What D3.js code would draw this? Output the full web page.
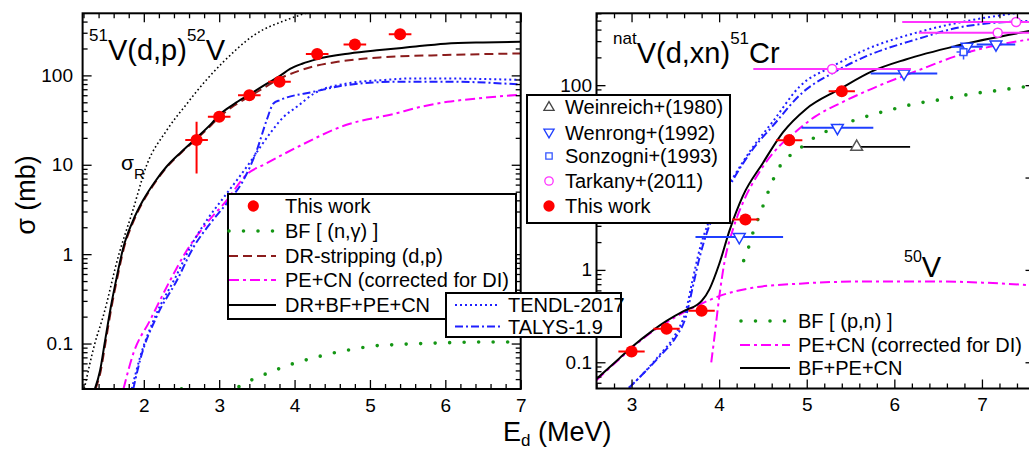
<!DOCTYPE html>
<html>
<head>
<meta charset="utf-8">
<script src="https://cdn.jsdelivr.net/npm/d3@7"></script>
<style>
  body { margin: 0; background: #fff; }
  svg { font-family: "Liberation Sans", Arial, sans-serif; }
  .frame { fill: none; stroke: #000; stroke-width: 2; }
  .tick line { stroke: #000; stroke-width: 1.3; }
  .tick text { font-size: 19px; fill: #000; }
  .sigR  { fill: none; stroke: #000; stroke-width: 1.6; stroke-dasharray: 1.6 2.6; }
  .total { fill: none; stroke: #000; stroke-width: 2; }
  .dr    { fill: none; stroke: #8b1c1c; stroke-width: 2; stroke-dasharray: 9 5; }
  .tendl { fill: none; stroke: #1f1fff; stroke-width: 2; stroke-dasharray: 2 3; }
  .talys { fill: none; stroke: #1f1fff; stroke-width: 2; stroke-dasharray: 8 3 2 3; }
  .pecn  { fill: none; stroke: #ff00ff; stroke-width: 2; stroke-dasharray: 10 4 3 4; }
  .bf    { fill: none; stroke: #149614; stroke-width: 3.6; stroke-dasharray: 0 14.5; stroke-linecap: round; }
  .legend rect { fill: #fff; stroke: #000; stroke-width: 2; }
  .legend text { font-size: 20px; fill: #000; }
</style>
</head>
<body>
<svg id="chart" width="1029" height="450"></svg>
<script>
/*
Data - left panel, 51V(d,p)52V  ([E_d MeV, sigma mb])
*/

const dpSigmaR = [[1.21,0.031],[1.35,0.1],[1.46,0.2],[1.67,1],[1.85,3],[2.04,10],[2.3,24],[2.57,48],[2.83,89],[3.05,140],[3.47,285],[3.9,420],[4.3,540]];
const dpTotal  = [[1.35,0.031],[1.42,0.05],[1.48,0.1],[1.56,0.25],[1.64,0.55],[1.73,1.2],[1.85,2.3],[1.99,4],[2.15,6.5],[2.3,9.5],[2.5,14],[2.7,20],[2.9,29],[3.0,36],[3.2,48],[3.4,61],[3.6,78],[3.8,98],[3.94,118],[4.1,135],[4.3,152],[4.73,176],[5.13,192],[5.5,206],[6.0,226],[6.5,234],[7.0,238]];
const dpStrip  = [[1.36,0.031],[1.43,0.05],[1.49,0.1],[1.57,0.25],[1.65,0.55],[1.74,1.2],[1.86,2.3],[2.0,4],[2.16,6.5],[2.31,9.5],[2.51,14],[2.7,19.5],[2.9,28],[3.0,34],[3.2,46],[3.4,58],[3.6,73],[3.8,92],[4.0,108],[4.25,126],[4.6,143],[5.13,159],[6.0,169],[7.0,176]];
const dpPeCn   = [[1.73,0.031],[1.86,0.077],[2.08,0.18],[2.35,0.51],[2.57,1.1],[2.83,2.2],[3.1,4.0],[3.36,7.7],[3.63,10.4],[4.0,15.2],[4.69,28],[5.34,37.5],[5.6,43],[6.03,50.6],[6.5,56],[7.0,61]];
const dpBf     = [[2.5,0.0312],[2.9,0.0295],[3.25,0.0327],[3.44,0.0395],[3.64,0.0465],[3.82,0.0533],[4.01,0.0607],[4.2,0.0672],[4.39,0.074],[4.58,0.0806],[4.77,0.0863],[4.96,0.0916],[5.15,0.0957],[5.34,0.097],[5.53,0.099],[5.71,0.1],[6.0,0.102],[6.5,0.104],[7.0,0.104]];
const dpTendl  = [[1.84,0.031],[1.95,0.07],[2.15,0.2],[2.42,0.55],[2.64,1.3],[2.85,2.5],[3.05,4.2],[3.25,7],[3.42,11],[3.55,16],[3.7,24],[3.85,34],[4.03,44.5],[4.25,62],[4.69,81],[5.2,89],[5.57,92.5],[6.2,92],[7.0,89]];
const dpTalys  = [[1.86,0.031],[1.95,0.065],[2.17,0.2],[2.44,0.51],[2.66,1.2],[2.88,2.2],[3.1,3.7],[3.32,6.7],[3.5,14.6],[3.63,31.6],[3.72,48.5],[3.81,53],[4.25,65.5],[4.69,77.8],[5.35,84.8],[6.02,85],[6.79,81],[7.0,79]];

const dpWorkE  = [2.7, 3.0, 3.4, 3.8, 4.3, 4.8, 5.4];
const dpWorkS  = [18.9, 34.4, 60, 84.8, 173, 222, 288];
const dpWorkLo = [8.0, 31.5, 55, 78, 160, 205, 268];
const dpWorkHi = [30.2, 37.5, 65, 92, 186, 239, 308];
const dpWorkDE = 0.15;

/*
Data - right panel, natV(d,xn)51Cr
*/

const xnTotal  = [[2.6,0.066],[2.86,0.11],[3.0,0.145],[3.24,0.22],[3.4,0.28],[3.6,0.36],[3.75,0.42],[3.8,0.46],[3.89,0.62],[4.0,1.15],[4.12,2.7],[4.27,6.3],[4.5,14.4],[4.73,31],[4.99,55],[5.37,90],[5.75,142],[6.13,190],[6.7,265],[7.6,395]];
const xnPeCn   = [[3.91,0.1],[3.95,0.2],[4.0,0.5],[4.06,1.2],[4.16,2.8],[4.27,5.3],[4.46,11.5],[4.69,22],[4.85,30],[5.1,46],[5.4,65],[5.7,88],[6.25,142],[6.82,224],[7.6,320]];
const xnPeCn50 = [[2.6,0.064],[2.86,0.108],[3.0,0.142],[3.24,0.215],[3.4,0.27],[3.6,0.35],[3.75,0.41],[4.0,0.52],[4.38,0.64],[4.92,0.71],[5.68,0.75],[6.44,0.75],[7.6,0.68]];
const xnBf     = [[4.28,1.26],[4.34,1.8],[4.39,2.6],[4.45,3.66],[4.51,5.2],[4.57,7.4],[4.64,10.6],[4.71,14],[4.8,17],[4.93,21],[5.11,28],[5.27,33],[5.43,38.5],[5.59,43],[5.75,48],[5.92,53],[6.08,58],[6.24,63],[6.41,67],[6.58,71],[6.74,76],[6.9,81],[7.07,85],[7.24,89],[7.4,94],[7.6,98]];
const xnTendl  = [[2.97,0.053],[3.1,0.07],[3.32,0.12],[3.5,0.2],[3.62,0.36],[3.7,0.8],[3.78,1.7],[3.87,3.1],[4.0,5.6],[4.16,10],[4.38,21],[4.61,40],[4.92,97],[5.3,161],[5.68,244],[6.25,370],[6.82,493],[7.6,640]];
const xnTalys  = [[2.97,0.053],[3.1,0.07],[3.32,0.116],[3.51,0.19],[3.62,0.31],[3.7,0.66],[3.78,1.4],[3.87,2.7],[4.0,4.9],[4.16,9.5],[4.38,20],[4.61,36],[4.95,83],[5.3,136],[5.68,206],[6.25,313],[6.82,436],[7.6,500]];

const xnWorkE  = [3.0, 3.4, 3.8, 4.3, 4.8, 5.4];
const xnWorkS  = [0.131, 0.231, 0.362, 3.51, 25.4, 86];
const xnWorkDE = 0.15;

const weinreichE  = [5.57];
const weinreichS  = [21.5];
const weinreichDE = [0.61];
const wenrongE    = [4.23, 5.35, 6.11, 6.83, 7.16];
const wenrongS    = [2.27, 34.5, 134, 261, 276];
const wenrongDE   = [0.5, 0.41, 0.38, 0.18, 0.22];
const sonzogniE   = [6.79];
const sonzogniS   = [228];
const sonzogniLo  = [190];
const sonzogniHi  = [254];
const sonzogniDE  = [0.08];
const tarkanyE    = [5.29, 7.18, 7.39];
const tarkanyS    = [150, 370, 482];
const tarkanyDE   = [0.9, 0.9, 1.3];

/*
Prototype
*/

var Panel = function (config) {
  return this.__init__(config);
};

Panel.prototype = {

  __init__ : function (config) {
    let self = this;

    self.svg    = config.svg;
    self.left   = config.left;
    self.right  = config.right;
    self.top    = config.top;
    self.bottom = config.bottom;

    self.x = d3.scaleLinear().domain(config.eDomain).range([self.left, self.right]);
    self.y = d3.scaleLog().domain(config.sDomain).range([self.bottom, self.top]);

    self.line = d3.line()
      .x(d => self.x(d[0]))
      .y(d => self.y(d[1]))
      .curve(d3.curveMonotoneX);

    self.svg.append("clipPath").attr("id", config.id)
      .append("rect")
      .attr("x", self.left).attr("y", self.top)
      .attr("width", self.right - self.left).attr("height", self.bottom - self.top);

    self.plot = self.svg.append("g").attr("clip-path", "url(#" + config.id + ")");

    return self;
  },

  curve : function (data, cls) {
    let self = this;
    self.plot.append("path").datum(data).attr("class", cls).attr("d", self.line);
    return self;
  },

  points : function (e, s, dE, opt) {
    let self = this;
    let g = self.plot.append("g");
    e.forEach(function (ei, i) {
      let de = Array.isArray(dE) ? dE[i] : dE;
      g.append("line")
        .attr("x1", self.x(ei - de)).attr("x2", self.x(ei + de))
        .attr("y1", self.y(s[i])).attr("y2", self.y(s[i]))
        .attr("stroke", opt.bar).attr("stroke-width", opt.barWidth || 2);
      if (opt.lo) {
        g.append("line")
          .attr("x1", self.x(ei)).attr("x2", self.x(ei))
          .attr("y1", self.y(opt.lo[i])).attr("y2", self.y(opt.hi[i]))
          .attr("stroke", opt.bar).attr("stroke-width", opt.barWidth || 2);
      }
    });
    e.forEach(function (ei, i) {
      g.append("path")
        .attr("d", d3.symbol().type(opt.type).size(opt.size)())
        .attr("transform", "translate(" + self.x(ei) + "," + self.y(s[i]) + ")" + (opt.flip ? " rotate(180)" : ""))
        .attr("fill", opt.fill).attr("stroke", opt.stroke).attr("stroke-width", 1.5);
    });
    return self;
  },

  axes : function (majorE, majorS, labelS, labelPad) {
    let self = this;
    let e0 = self.x.domain()[0], e1 = self.x.domain()[1];
    let minorE = d3.range(Math.ceil(e0 * 5 - 1e-6), Math.floor(e1 * 5 + 1e-6) + 1)
      .map(k => k / 5).filter(v => Math.abs(v - Math.round(v)) > 1e-6);
    let s0 = self.y.domain()[0], s1 = self.y.domain()[1];
    let minorS = [];
    [0.01, 0.1, 1, 10, 100].forEach(function (dec) {
      for (let m = 2; m <= 9; m++) {
        let v = dec * m;
        if (v >= s0 && v <= s1) minorS.push(v);
      }
    });
    let fmt = d3.format("~g");
    let noDomain = g => g.select(".domain").remove();

    let add = function (axis, tx, ty) {
      self.svg.append("g")
        .attr("transform", "translate(" + tx + "," + ty + ")")
        .call(axis)
        .call(noDomain);
    };

    add(d3.axisBottom(self.x).tickValues(minorE).tickSize(-5).tickFormat(""), 0, self.bottom);
    add(d3.axisBottom(self.x).tickValues(majorE).tickSize(-9).tickPadding(9.5).tickFormat(fmt), 0, self.bottom);
    add(d3.axisTop(self.x).tickValues(minorE).tickSize(-5).tickFormat(""), 0, self.top);
    add(d3.axisTop(self.x).tickValues(majorE).tickSize(-9).tickFormat(""), 0, self.top);
    add(d3.axisLeft(self.y).tickValues(minorS).tickSize(-5).tickFormat(""), self.left, 0);
    add(d3.axisLeft(self.y).tickValues(majorS).tickSize(-9).tickFormat(""), self.left, 0);
    // labelled decades (the one under a legend box is left out)
    add(d3.axisLeft(self.y).tickValues(labelS).tickSize(0).tickPadding(labelPad).tickFormat(fmt), self.left, 0);
    add(d3.axisRight(self.y).tickValues(minorS).tickSize(-5).tickFormat(""), self.right, 0);
    add(d3.axisRight(self.y).tickValues(majorS).tickSize(-9).tickFormat(""), self.right, 0);

    self.svg.append("rect").attr("class", "frame")
      .attr("x", self.left).attr("y", self.top)
      .attr("width", self.right - self.left).attr("height", self.bottom - self.top);
    return self;
  }

};

/*
Chart
*/

const svg = d3.select("#chart");

// 51V(d,p)52V
let dp = new Panel({ svg: svg, id: "clipL", left: 82.6, right: 520.7, top: 13.3, bottom: 389,
                     eDomain: [1.188, 7], sDomain: [0.031, 495] });

dp.curve(dpSigmaR, "sigR")
  .curve(dpBf, "bf")
  .curve(dpPeCn, "pecn")
  .curve(dpTendl, "tendl")
  .curve(dpTalys, "talys")
  .curve(dpStrip, "dr")
  .curve(dpTotal, "total")
  .points(dpWorkE, dpWorkS, dpWorkDE, { type: d3.symbolCircle, size: 115, fill: "#ff0000", stroke: "none",
                                         bar: "#ff0000", lo: dpWorkLo, hi: dpWorkHi })
  .axes([2, 3, 4, 5, 6, 7], [0.1, 1, 10, 100], [0.1, 1, 10, 100], 9.6);

// natV(d,xn)51Cr
let xn = new Panel({ svg: svg, id: "clipR", left: 596.5, right: 1034.5, top: 13.3, bottom: 388.5,
                     eDomain: [2.6, 7.6], sDomain: [0.052, 600] });

xn.curve(xnBf, "bf")
  .curve(xnPeCn50, "pecn")
  .curve(xnPeCn, "pecn")
  .curve(xnTendl, "tendl")
  .curve(xnTalys, "talys")
  .curve(xnTotal, "total")
  .points(weinreichE, weinreichS, weinreichDE, { type: d3.symbolTriangle, size: 60, fill: "#fff", stroke: "#555", bar: "#000", barWidth: 1.8 })
  .points(wenrongE, wenrongS, wenrongDE, { type: d3.symbolTriangle, size: 60, fill: "#fff", stroke: "#1f3fff", bar: "#1f3fff", flip: true })
  .points(sonzogniE, sonzogniS, sonzogniDE, { type: d3.symbolSquare, size: 45, fill: "#fff", stroke: "#3355ff", bar: "#3355ff",
                                               barWidth: 1.5, lo: sonzogniLo, hi: sonzogniHi })
  .points(tarkanyE, tarkanyS, tarkanyDE, { type: d3.symbolCircle, size: 64, fill: "#fff", stroke: "#ff33ff", bar: "#ff33ff" })
  .points(xnWorkE, xnWorkS, xnWorkDE, { type: d3.symbolCircle, size: 115, fill: "#ff0000", stroke: "none", bar: "#ff0000" })
  .axes([3, 4, 5, 6, 7], [0.1, 1, 10, 100], [0.1, 1, 100], 4.5);

/*
Labels
*/

let title = function (x, y, pre, main, sup, tail) {
  let t = svg.append("text").attr("x", x).attr("y", y).attr("font-size", 29);
  t.append("tspan").attr("font-size", 17).attr("dy", -19).text(pre);
  t.append("tspan").attr("dy", 19).text(main);
  t.append("tspan").attr("font-size", 17).attr("dy", -19).text(sup);
  t.append("tspan").attr("dy", 19).text(tail);
};
title(89, 60, "51", "V(d,p)", "52", "V");
title(613, 63, "nat", "V(d,xn)", "51", "Cr");

let v50 = svg.append("text").attr("x", 904).attr("y", 277).attr("font-size", 29);
v50.append("tspan").attr("font-size", 16).attr("dy", -15).text("50");
v50.append("tspan").attr("dy", 15).text("V");

let sr = svg.append("text").attr("x", 121).attr("y", 170).attr("font-size", 21);
sr.append("tspan").text("σ");
sr.append("tspan").attr("font-size", 15).attr("dy", 9).text("R");

svg.append("text")
  .attr("transform", "translate(35,195) rotate(-90)")
  .attr("text-anchor", "middle").attr("font-size", 27)
  .text("σ (mb)");

let ex = svg.append("text").attr("x", 503).attr("y", 441).attr("font-size", 27);
ex.append("tspan").text("E");
ex.append("tspan").attr("font-size", 17).attr("dy", 5).text("d");
ex.append("tspan").attr("dy", -5).text(" (MeV)");

/*
Legends
*/

let lineSample = function (g, x1, x2, y, cls) {
  g.append("line").attr("class", cls).attr("x1", x1).attr("x2", x2).attr("y1", y).attr("y2", y);
};
let marker = function (g, x, y, opt) {
  g.append("path")
    .attr("d", d3.symbol().type(opt.type).size(opt.size)())
    .attr("transform", "translate(" + x + "," + y + ")" + (opt.flip ? " rotate(180)" : ""))
    .attr("fill", opt.fill).attr("stroke", opt.stroke).attr("stroke-width", 1.3);
};
let label = function (g, x, y, txt) {
  g.append("text").attr("x", x).attr("y", y).attr("dy", "0.35em").text(txt);
};

// left legend
let lg = svg.append("g").attr("class", "legend");
lg.append("rect").attr("x", 228).attr("y", 194).attr("width", 288).attr("height", 125);
marker(lg, 253.3, 206, { type: d3.symbolCircle, size: 100, fill: "#ff0000", stroke: "none" });
label(lg, 285, 206, "This work");
lineSample(lg, 229, 276, 231, "bf");
label(lg, 285, 231, "BF [ (n,γ) ]");
lineSample(lg, 229, 276, 256, "dr");
label(lg, 285, 256, "DR-stripping (d,p)");
lineSample(lg, 229, 276, 280, "pecn");
label(lg, 285, 280, "PE+CN (corrected for DI)");
lineSample(lg, 229, 276, 305, "total");
label(lg, 285, 305, "DR+BF+PE+CN");

// model legend
let mg = svg.append("g").attr("class", "legend");
mg.append("rect").attr("x", 446).attr("y", 293).attr("width", 175).attr("height", 44);
lineSample(mg, 455, 500, 305, "tendl");
label(mg, 508, 305, "TENDL-2017");
lineSample(mg, 455, 500, 326.5, "talys");
label(mg, 508, 326.5, "TALYS-1.9");

// experiment legend
let eg = svg.append("g").attr("class", "legend");
eg.append("rect").attr("x", 527).attr("y", 95).attr("width", 203).attr("height", 128);
marker(eg, 549, 107.5, { type: d3.symbolTriangle, size: 45, fill: "#fff", stroke: "#444" });
label(eg, 565, 107, "Weinreich+(1980)");
marker(eg, 549, 132, { type: d3.symbolTriangle, size: 45, fill: "#fff", stroke: "#1f3fff", flip: true });
label(eg, 565, 132.5, "Wenrong+(1992)");
marker(eg, 549, 156, { type: d3.symbolSquare, size: 40, fill: "#fff", stroke: "#3355ff" });
label(eg, 565, 156, "Sonzogni+(1993)");
marker(eg, 549, 181, { type: d3.symbolCircle, size: 55, fill: "#fff", stroke: "#ff33ff" });
label(eg, 565, 181, "Tarkany+(2011)");
marker(eg, 549, 206, { type: d3.symbolCircle, size: 100, fill: "#ff0000", stroke: "none" });
label(eg, 565, 206, "This work");

// right model legend (no frame)
let rg = svg.append("g").attr("class", "legend");
lineSample(rg, 741, 791, 321, "bf");
label(rg, 798, 321, "BF [ (p,n) ]");
lineSample(rg, 740, 790, 345, "pecn");
label(rg, 798, 345, "PE+CN (corrected for DI)");
lineSample(rg, 740, 790, 368, "total");
label(rg, 798, 368, "BF+PE+CN");
</script>
</body>
</html>
